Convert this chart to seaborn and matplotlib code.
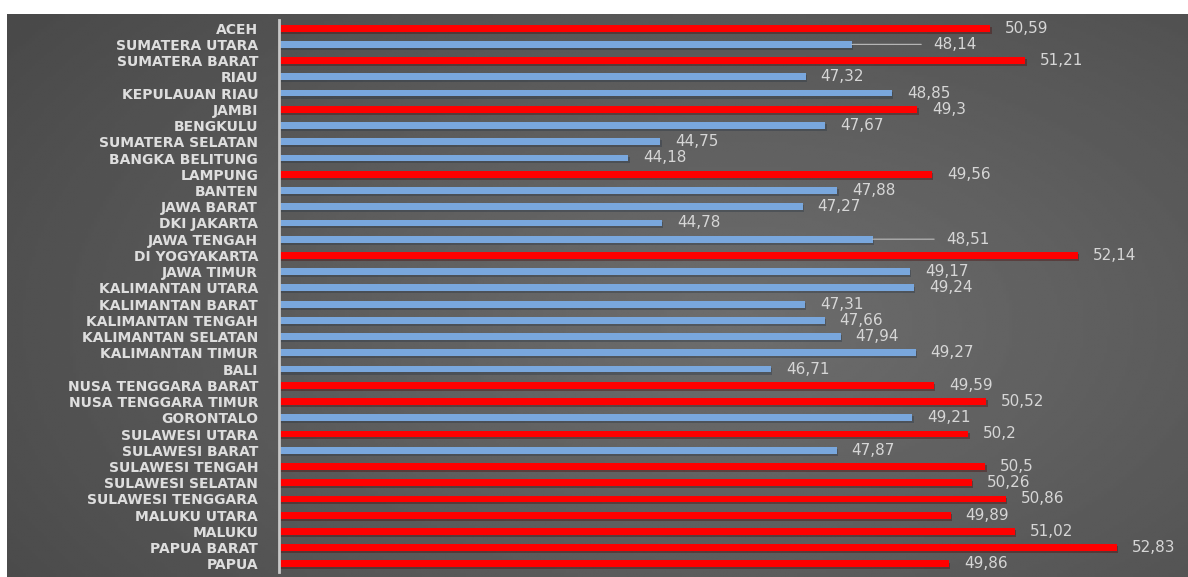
"""
Bar chart per provinsi: red above the national figure, blue below.
"""
import numpy as np
import matplotlib
matplotlib.use('Agg')
import matplotlib.pyplot as plt
import matplotlib.patheffects as pe
import seaborn as sns

provinsi = [
    'ACEH', 'SUMATERA UTARA', 'SUMATERA BARAT', 'RIAU', 'KEPULAUAN RIAU',
    'JAMBI', 'BENGKULU', 'SUMATERA SELATAN', 'BANGKA BELITUNG', 'LAMPUNG',
    'BANTEN', 'JAWA BARAT', 'DKI JAKARTA', 'JAWA TENGAH', 'DI YOGYAKARTA',
    'JAWA TIMUR', 'KALIMANTAN UTARA', 'KALIMANTAN BARAT', 'KALIMANTAN TENGAH',
    'KALIMANTAN SELATAN', 'KALIMANTAN TIMUR', 'BALI', 'NUSA TENGGARA BARAT',
    'NUSA TENGGARA TIMUR', 'GORONTALO', 'SULAWESI UTARA', 'SULAWESI BARAT',
    'SULAWESI TENGAH', 'SULAWESI SELATAN', 'SULAWESI TENGGARA', 'MALUKU UTARA',
    'MALUKU', 'PAPUA BARAT', 'PAPUA',
]
nilai = [
    50.59, 48.14, 51.21, 47.32, 48.85,
    49.30, 47.67, 44.75, 44.18, 49.56,
    47.88, 47.27, 44.78, 48.51, 52.14,
    49.17, 49.24, 47.31, 47.66,
    47.94, 49.27, 46.71, 49.59,
    50.52, 49.21, 50.20, 47.87,
    50.50, 50.26, 50.86, 49.89,
    51.02, 52.83, 49.86,
]
kelompok = [
    'atas', 'bawah', 'atas', 'bawah', 'bawah',
    'atas', 'bawah', 'bawah', 'bawah', 'atas',
    'bawah', 'bawah', 'bawah', 'bawah', 'atas',
    'bawah', 'bawah', 'bawah', 'bawah',
    'bawah', 'bawah', 'bawah', 'atas',
    'atas', 'bawah', 'atas', 'bawah',
    'atas', 'atas', 'atas', 'atas',
    'atas', 'atas', 'atas',
]
label_teks = [f'{v:g}'.replace('.', ',') for v in nilai]

# labels pulled out with a leader line (offset in pixels)
leader = {'SUMATERA UTARA': 81, 'JAWA TENGAH': 73}

sns.set_style('white')
plt.rcParams['font.family'] = ['DejaVu Sans']

W, H = 1188, 577
fig = plt.figure(figsize=(W / 100, H / 100), dpi=100)
fig.patch.set_facecolor('white')

# dark radial-gradient panel
bg = fig.add_axes([7 / W, 0, 1 - 7 / W, 1 - 14 / H])
bg.set_axis_off()
gx, gy = np.meshgrid(np.linspace(0, 1, 400), np.linspace(0, 1, 200))
r = np.sqrt(((gx - 0.62) / 0.75) ** 2 + ((gy - 0.55) / 0.9) ** 2)
shade = np.clip(0.43 - 0.14 * r, 0.29, 0.44)
bg.imshow(shade, cmap='gray', vmin=0, vmax=1, aspect='auto',
          extent=[0, 1, 0, 1], interpolation='bilinear')

ax = fig.add_axes([279 / W, 5 / H, 1 - 279 / W, 1 - 25 / H])
ax.set_facecolor('none')

sns.barplot(x=nilai, y=provinsi, hue=kelompok, orient='h', dodge=False,
            palette={'atas': '#ff0000', 'bawah': '#79a7dd'}, width=0.42,
            legend=False, saturation=1, ax=ax)
for bar in ax.patches:
    bar.set_edgecolor('none')
    bar.set_path_effects([pe.SimplePatchShadow(offset=(1, -1.5), alpha=0.35), pe.Normal()])

ax.set_xlim(38, 54.09)
ax.set_ylim(len(provinsi) - 0.5, -0.5)
ax.set_xticks([])
ax.set_xlabel('')
ax.set_ylabel('')
ax.tick_params(axis='y', length=0, pad=15, labelsize=10, labelcolor='#dedede')
for t in ax.get_yticklabels():
    t.set_fontweight('bold')

for s in ['top', 'right', 'bottom']:
    ax.spines[s].set_visible(False)
ax.spines['left'].set_color('#c8c8c8')
ax.spines['left'].set_linewidth(2)

for i, (p, v, txt) in enumerate(zip(provinsi, nilai, label_teks)):
    if p in leader:
        ax.annotate(txt, xy=(v, i), xytext=(leader[p], 0), textcoords='offset pixels',
                    va='center', ha='left', fontsize=11, color='#d6d6d6',
                    arrowprops=dict(arrowstyle='-', color='#bfbfbf', lw=0.8,
                                    shrinkA=6, shrinkB=0))
    else:
        ax.annotate(txt, xy=(v, i), xytext=(15, 0), textcoords='offset pixels',
                    va='center', ha='left', fontsize=11, color='#d6d6d6')

plt.savefig('out.png', dpi=100)
plt.close()
